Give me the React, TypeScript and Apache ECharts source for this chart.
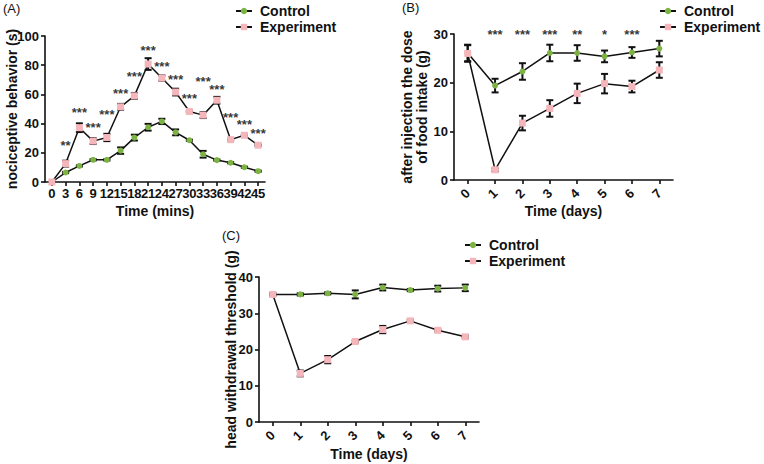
import React, { useEffect, useRef } from 'react';
import * as echarts from 'echarts';

// ---------- Panel A ----------
const minutes = ['0', '3', '6', '9', '12', '15', '18', '21', '24', '27', '30', '33', '36', '39', '42', '45'];
const controlA = [0, 6.5, 11, 15.2, 15.2, 21.5, 30.4, 37.5, 41.5, 34, 28.6, 19, 15, 13.2, 10.1, 7.4];
const controlAErr = [0, 0.4, 0.4, 0.5, 0.5, 2.2, 2, 2.3, 1.8, 2, 0.4, 2.3, 0.4, 0.4, 0.4, 0.4];
const experimentA = [0, 12.6, 37.2, 28, 30.5, 51.5, 59, 80.8, 71.2, 61.6, 48.3, 45.8, 56, 29, 32, 25.2];
const experimentAErr = [0, 2, 3, 2, 2.5, 2, 2, 4, 1.8, 2.3, 0.5, 2, 2.3, 0.5, 0.5, 0.5];
const starsA = ['', '**', '***', '***', '***', '***', '***', '***', '***', '***', '***', '***', '***', '***', '***', '***'];
const starHeightA = [0, 25, 47.5, 37, 46.5, 60.5, 72.5, 90, 79, 70, 57.5, 68.5, 63.5, 44, 39.5, 33];

// ---------- Panel B ----------
const days = ['0', '1', '2', '3', '4', '5', '6', '7'];
const controlB = [26.1, 19.4, 22.3, 26.1, 26.1, 25.4, 26.2, 27];
const controlBErr = [1.7, 1.4, 1.7, 1.7, 1.6, 1.2, 1.1, 1.6];
const experimentB = [26.0, 2.1, 11.7, 14.7, 17.8, 19.8, 19.2, 22.6];
const experimentBErr = [1.7, 0.3, 1.5, 1.7, 2.0, 2.0, 1.2, 1.6];
const starsB = ['', '***', '***', '***', '**', '*', '***', ''];
const starHeightB = [0, 30, 30, 30, 30, 30, 30, 30];

// ---------- Panel C ----------
const controlC = [35.2, 35.2, 35.5, 35.2, 37.1, 36.4, 36.8, 37.0];
const controlCErr = [0.3, 0.3, 0.3, 1.1, 0.8, 0.3, 0.8, 0.9];
const experimentC = [35.2, 13.4, 17.2, 22.2, 25.5, 27.9, 25.3, 23.5];
const experimentCErr = [0.3, 0.8, 1.0, 0.3, 1.0, 0.3, 0.3, 0.3];
const starsC = ['', '***', '***', '***', '***', '***', '***', '***'];
const starHeightC = [0, 40.3, 40.3, 40.3, 40.3, 40.3, 40.3, 40.3];

const FONT = '"Liberation Sans", Arial, Helvetica, sans-serif';
const INK = '#111111';
const GREEN = '#7cb342';
const PINK = '#f4b6bb';

function lineSeries(name: string, data: number[], idx: number, color: string, symbol: string, size: number) {
  return {
    type: 'line',
    name,
    xAxisIndex: idx,
    yAxisIndex: idx,
    data,
    symbol,
    symbolSize: size,
    showSymbol: true,
    silent: true,
    z: 3,
    lineStyle: { color: INK, width: 1.5 },
    itemStyle: { color, opacity: 1 },
  };
}

function errSeries(vals: number[], errs: number[], idx: number) {
  return {
    type: 'custom',
    xAxisIndex: idx,
    yAxisIndex: idx,
    silent: true,
    z: 2,
    data: vals.map((v, i) => [i, v, errs[i]]),
    encode: { x: 0, y: 1 },
    renderItem: (_params: any, api: any) => {
      const x = api.value(0);
      const v = api.value(1);
      const e = api.value(2);
      const top = api.coord([x, v + e]);
      const bot = api.coord([x, v - e]);
      const w = 3.5;
      const st = { stroke: INK, lineWidth: 2 };
      return {
        type: 'group',
        children: [
          { type: 'line', shape: { x1: top[0], y1: top[1], x2: bot[0], y2: bot[1] }, style: st },
          { type: 'line', shape: { x1: top[0] - w, y1: top[1], x2: top[0] + w, y2: top[1] }, style: st },
          { type: 'line', shape: { x1: bot[0] - w, y1: bot[1], x2: bot[0] + w, y2: bot[1] }, style: st },
        ],
      };
    },
  };
}

function starSeries(stars: string[], heights: number[], idx: number) {
  const data: any[] = [];
  stars.forEach((s, i) => {
    if (s) data.push({ value: [i, heights[i]], name: s });
  });
  return {
    type: 'scatter',
    xAxisIndex: idx,
    yAxisIndex: idx,
    silent: true,
    symbol: 'circle',
    symbolSize: 1,
    itemStyle: { color: 'rgba(0,0,0,0)' },
    z: 5,
    data,
    label: {
      show: true,
      position: 'inside',
      formatter: '{b}',
      fontFamily: FONT,
      fontWeight: 'bold',
      fontSize: 13,
      color: '#000000',
      offset: [0, 3],
    },
    labelLayout: { hideOverlap: false },
  };
}

const labelStyle = { fontFamily: FONT, fontWeight: 'bold' as const, fontSize: 13, color: INK };
const nameStyle = { fontFamily: FONT, fontWeight: 'bold' as const, fontSize: 14, color: INK };

function xAxis(idx: number, data: string[], name: string, rotate: number, nameGap: number, margin: number) {
  return {
    type: 'category',
    gridIndex: idx,
    data,
    boundaryGap: true,
    name,
    nameLocation: 'middle',
    nameGap,
    nameTextStyle: nameStyle,
    axisLine: { show: true, lineStyle: { color: INK, width: 1.6 } },
    axisTick: { show: true, alignWithLabel: true, length: 4, lineStyle: { color: INK, width: 1.6 } },
    axisLabel: { ...labelStyle, interval: 0, rotate, margin },
    splitLine: { show: false },
  };
}

function yAxis(idx: number, max: number, interval: number, name: string, nameGap: number) {
  return {
    type: 'value',
    gridIndex: idx,
    min: 0,
    max,
    interval,
    name,
    nameLocation: 'middle',
    nameGap,
    nameMoveOverlap: false,
    nameTextStyle: { ...nameStyle, lineHeight: 15 },
    axisLine: { show: true, lineStyle: { color: INK, width: 1.6 } },
    axisTick: { show: true, length: 4, lineStyle: { color: INK, width: 1.6 } },
    axisLabel: { ...labelStyle, margin: 6 },
    splitLine: { show: false },
  };
}

function legend(left: number, top: number) {
  return {
    left,
    top,
    padding: 0,
    orient: 'vertical',
    itemWidth: 16,
    itemHeight: 8,
    itemGap: 2,
    selectedMode: false,
    data: ['Control', 'Experiment'],
    textStyle: { fontFamily: FONT, fontWeight: 'bold', fontSize: 14, color: INK, padding: [0, 0, 0, 3] },
  };
}

export default function App() {
  const ref = useRef<HTMLDivElement>(null);

  useEffect(() => {
    if (!ref.current) return;
    const chart = echarts.init(ref.current, null, { renderer: 'svg' });
    const option: any = {
      animation: false,
      backgroundColor: '#ffffff',
      grid: [
        { left: 45, top: 36, width: 220, height: 146 },
        { left: 454, top: 34, width: 219, height: 146 },
        { left: 259, top: 277, width: 220, height: 145 },
      ],
      xAxis: [
        xAxis(0, minutes, 'Time (mins)', 0, 22, 5),
        xAxis(1, days, 'Time (days)', 45, 24, 11),
        xAxis(2, days, 'Time (days)', 45, 25, 11),
      ],
      yAxis: [
        yAxis(0, 100, 20, 'nociceptive behavior (s)', 26),
        yAxis(1, 30, 10, 'after injection the dose\nof food intake (g)', 25),
        yAxis(2, 40, 10, 'head withdrawal threshold (g)', 21),
      ],
      legend: [legend(235, 4), legend(659, 4), legend(464, 238)],
      graphic: [
        { type: 'text', left: 3, top: 2, style: { text: '(A)', fontFamily: FONT, fontSize: 13, fill: INK } },
        { type: 'text', left: 402, top: 1, style: { text: '(B)', fontFamily: FONT, fontSize: 13, fill: INK } },
        { type: 'text', left: 222, top: 229, style: { text: '(C)', fontFamily: FONT, fontSize: 13, fill: INK } },
      ],
      series: [
        errSeries(controlA, controlAErr, 0),
        errSeries(experimentA, experimentAErr, 0),
        lineSeries('Control', controlA, 0, GREEN, 'circle', 6),
        lineSeries('Experiment', experimentA, 0, PINK, 'rect', 7),
        starSeries(starsA, starHeightA, 0),

        errSeries(controlB, controlBErr, 1),
        errSeries(experimentB, experimentBErr, 1),
        lineSeries('Control', controlB, 1, GREEN, 'circle', 6),
        lineSeries('Experiment', experimentB, 1, PINK, 'rect', 7),
        starSeries(starsB, starHeightB, 1),

        errSeries(controlC, controlCErr, 2),
        errSeries(experimentC, experimentCErr, 2),
        lineSeries('Control', controlC, 2, GREEN, 'circle', 6),
        lineSeries('Experiment', experimentC, 2, PINK, 'rect', 7),
        starSeries(starsC, starHeightC, 2),
      ],
    };
    chart.setOption(option);
    return () => chart.dispose();
  }, []);

  return (
    <div
      ref={ref}
      style={{ position: 'fixed', left: 0, top: 0, width: 764, height: 464, background: '#fff' }}
    />
  );
}
